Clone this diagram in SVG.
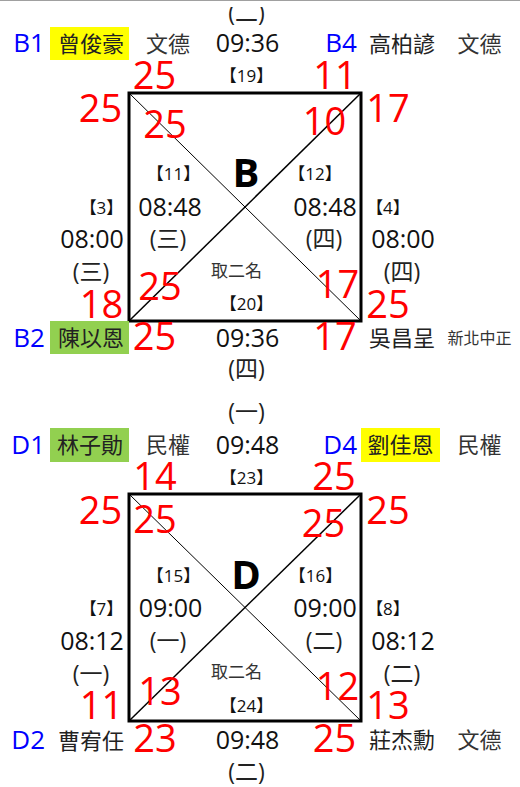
<svg xmlns="http://www.w3.org/2000/svg" width="520" height="787" viewBox="0 0 520 787">
<style>
text{font-family:"Open Sans","Noto Sans CJK TC",sans-serif;}
.lbl{font-size:26px;fill:#0000ff;text-anchor:end;}
.nm{font-size:22px;fill:#222;text-anchor:middle;font-family:"Noto Sans CJK TC",sans-serif;}
.cl{font-size:22px;fill:#333;text-anchor:middle;font-family:"Noto Sans CJK TC",sans-serif;}
.sm{font-size:16px;fill:#333;text-anchor:middle;font-family:"Noto Sans CJK TC",sans-serif;}
.tm{font-size:25px;fill:#111;text-anchor:middle;}
.pr{font-size:23px;fill:#222;text-anchor:middle;}
.br{font-size:17px;fill:#111;text-anchor:middle;}
.sc{font-size:38px;fill:#ff0000;text-anchor:middle;}
.big{font-size:40px;font-weight:bold;fill:#000;text-anchor:middle;}
.q{font-size:17px;fill:#333;text-anchor:middle;font-family:"Noto Sans CJK TC",sans-serif;}
.box{fill:none;stroke:#000;stroke-width:3;}
.d1{stroke:#000;stroke-width:1;}
.d2{stroke:#000;stroke-width:1.5;}
.hy{fill:#ffff00;}
.hg{fill:#92d050;}
</style>
<defs>
<clipPath id="topclip"><rect x="0" y="7" width="520" height="780"/></clipPath>
</defs>
<rect x="0" y="0" width="520" height="787" fill="#fff"/>
<line x1="0" y1="0.5" x2="520" y2="0.5" stroke="#a0a0a0" stroke-width="1"/>

<g id="connectors">
<line class="d1" x1="129" y1="93" x2="361" y2="321"/>
<line class="d2" x1="361" y1="93" x2="129" y2="321"/>
<line class="d1" x1="129" y1="494" x2="361" y2="721"/>
<line class="d2" x1="361" y1="494" x2="129" y2="721"/>
</g>

<g id="pool-B">
<rect class="box" x="129" y="93" width="232" height="228"/>
<text class="big" x="246" y="187">B</text>
<text class="q" x="236.5" y="277">取二名</text>
<g id="match-19">
<text class="pr" x="246.5" y="21" clip-path="url(#topclip)">(二)</text>
<text class="tm" x="247.5" y="52">09:36</text>
<text class="br" x="246.5" y="82">【19】</text>
</g>
<g id="match-20">
<text class="br" x="246.5" y="310">【20】</text>
<text class="tm" x="247.5" y="347">09:36</text>
<text class="pr" x="246.5" y="377">(四)</text>
</g>
<g id="match-11">
<text class="br" x="173.5" y="180">【11】</text>
<text class="tm" x="170" y="216">08:48</text>
<text class="pr" x="168" y="247">(三)</text>
</g>
<g id="match-12">
<text class="br" x="315" y="180">【12】</text>
<text class="tm" x="325" y="216">08:48</text>
<text class="pr" x="324" y="247">(四)</text>
</g>
<g id="match-3">
<text class="br" x="101.5" y="214">【3】</text>
<text class="tm" x="92" y="248">08:00</text>
<text class="pr" x="91" y="280">(三)</text>
</g>
<g id="match-4">
<text class="br" x="388" y="214">【4】</text>
<text class="tm" x="403" y="248">08:00</text>
<text class="pr" x="402" y="280">(四)</text>
</g>
<g id="player-B1">
<text class="lbl" x="45" y="52">B1</text>
<rect class="hy" x="50" y="27" width="79" height="33"/>
<text class="nm" x="91" y="52">曾俊豪</text>
<text class="cl" x="168" y="52">文德</text>
</g>
<g id="player-B4">
<text class="lbl" x="357" y="52">B4</text>
<text class="nm" x="402" y="52">高柏諺</text>
<text class="cl" x="479.5" y="52">文德</text>
</g>
<g id="player-B2">
<text class="lbl" x="45" y="347">B2</text>
<rect class="hg" x="50" y="321" width="79" height="33"/>
<text class="nm" x="91" y="346">陳以恩</text>
</g>
<g id="player-B3">
<text class="nm" x="402" y="346">吳昌呈</text>
<text class="sm" x="479.5" y="344">新北中正</text>
</g>
<g id="scores-B">
<text class="sc" x="154.5" y="89">25</text>
<text class="sc" x="335" y="89">11</text>
<text class="sc" x="100.5" y="122">25</text>
<text class="sc" x="165" y="138">25</text>
<text class="sc" x="324.5" y="135">10</text>
<text class="sc" x="388" y="122">17</text>
<text class="sc" x="160" y="300">25</text>
<text class="sc" x="101.5" y="318">18</text>
<text class="sc" x="154.5" y="350">25</text>
<text class="sc" x="337.5" y="298">17</text>
<text class="sc" x="388" y="318">25</text>
<text class="sc" x="335" y="350">17</text>
</g>
</g>

<g id="pool-D">
<rect class="box" x="129" y="494" width="232" height="227"/>
<text class="big" x="246" y="589">D</text>
<text class="q" x="236.5" y="678">取二名</text>
<g id="match-23">
<text class="pr" x="246.5" y="420">(一)</text>
<text class="tm" x="247.5" y="454">09:48</text>
<text class="br" x="246.5" y="484">【23】</text>
</g>
<g id="match-24">
<text class="br" x="246.5" y="712">【24】</text>
<text class="tm" x="247.5" y="749">09:48</text>
<text class="pr" x="246.5" y="780">(二)</text>
</g>
<g id="match-15">
<text class="br" x="173.5" y="582">【15】</text>
<text class="tm" x="170.5" y="617">09:00</text>
<text class="pr" x="168" y="649">(一)</text>
</g>
<g id="match-16">
<text class="br" x="315.5" y="582">【16】</text>
<text class="tm" x="325" y="617">09:00</text>
<text class="pr" x="324" y="649">(二)</text>
</g>
<g id="match-7">
<text class="br" x="101.5" y="615">【7】</text>
<text class="tm" x="92" y="650">08:12</text>
<text class="pr" x="91" y="682">(一)</text>
</g>
<g id="match-8">
<text class="br" x="388" y="615">【8】</text>
<text class="tm" x="403" y="650">08:12</text>
<text class="pr" x="402" y="682">(二)</text>
</g>
<g id="player-D1">
<text class="lbl" x="45" y="454">D1</text>
<rect class="hg" x="50" y="428" width="79" height="34"/>
<text class="nm" x="90" y="453">林子勛</text>
<text class="cl" x="168" y="453">民權</text>
</g>
<g id="player-D4">
<text class="lbl" x="357" y="454">D4</text>
<rect class="hy" x="361" y="428" width="79" height="34"/>
<text class="nm" x="400.5" y="453">劉佳恩</text>
<text class="cl" x="479.5" y="453">民權</text>
</g>
<g id="player-D2">
<text class="lbl" x="45" y="749">D2</text>
<text class="nm" x="91" y="749">曹宥任</text>
</g>
<g id="player-D3">
<text class="nm" x="402" y="748">莊杰勳</text>
<text class="cl" x="479.5" y="748">文德</text>
</g>
<g id="scores-D">
<text class="sc" x="155" y="490">14</text>
<text class="sc" x="334" y="490">25</text>
<text class="sc" x="100.5" y="524">25</text>
<text class="sc" x="155" y="533">25</text>
<text class="sc" x="323.5" y="537">25</text>
<text class="sc" x="388" y="524">25</text>
<text class="sc" x="160" y="705">13</text>
<text class="sc" x="101.5" y="719">11</text>
<text class="sc" x="155" y="752">23</text>
<text class="sc" x="337.5" y="700">12</text>
<text class="sc" x="388" y="719">13</text>
<text class="sc" x="334.5" y="752">25</text>
</g>
</g>
</svg>
